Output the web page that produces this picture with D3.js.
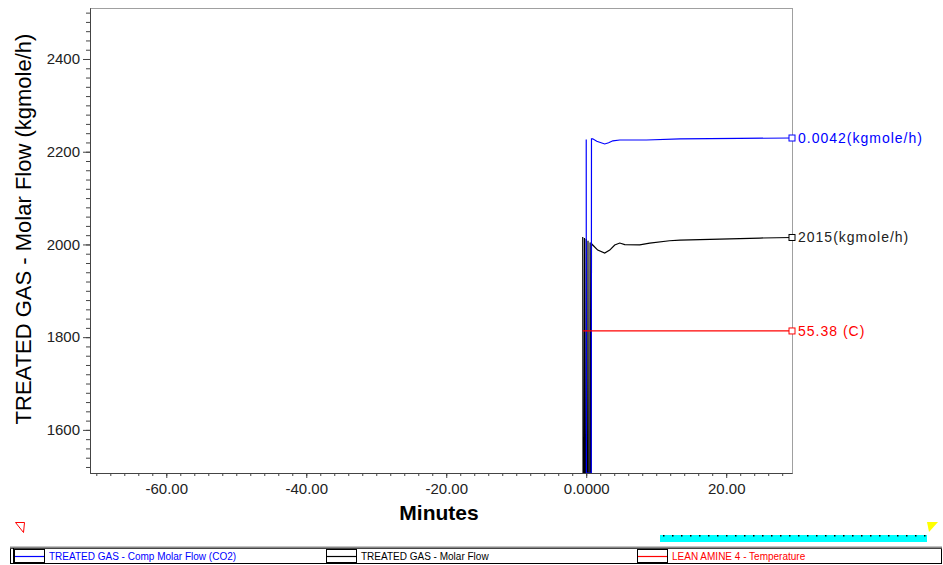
<!DOCTYPE html>
<html>
<head>
<meta charset="utf-8">
<script src="https://d3js.org/d3.v7.min.js"></script>
<style>
  body { margin: 0; background: #ffffff; font-family: "Liberation Sans", Arial, sans-serif; }
  svg text { font-family: "Liberation Sans", Arial, sans-serif; }
</style>
</head>
<body>
<svg id="chart" width="943" height="565"></svg>
<script>
// time in minutes
var co2Time  = [0.0, 0.02, 0.72, 0.75, 0.93, 1.5, 2.64, 3.2, 3.8, 4.8, 8.6, 13.4, 21.9, 29.4];
var co2Flow  = [0.00418, 0, 0, 0.00419, 0.00419, 0.00416, 0.004125, 0.00414, 0.004165, 0.004175, 0.004175, 0.004188, 0.004195, 0.0042];

var gasTime  = [-0.5, -0.45, -0.3, -0.25, -0.2, -0.05, 0.0, 0.05, 0.2, 0.25, 0.3, 0.5, 0.55, 0.6, 0.7, 0.75,
                0.93, 1.64, 2.64, 3.36, 4.07, 4.79, 5.5, 7.64, 9.07, 11.9, 13.4, 19.1, 24.8, 29.4];
var gasFlow  = [2016, 1450, 1450, 2014, 1450, 1450, 2012, 1450, 1450, 2008, 1450, 1450, 2004, 1450, 1450, 2002,
                1998.7, 1987.9, 1981.4, 1987.9, 1998.7, 2003, 1999.5, 1999, 2003, 2008, 2009.5, 2011.6, 2013.8, 2015];

var amineTime = [-0.5, 29.4];
var amineTemp = [55.38, 55.38];

var yTicks = [1600, 1800, 2000, 2200, 2400];
var xTicks = [-60, -40, -20, 0, 20];
var xTickLabels = ["-60.00", "-40.00", "-20.00", "0.0000", "20.00"];

var seriesNames = ["TREATED GAS - Comp Molar Flow (CO2)", "TREATED GAS - Molar Flow", "LEAN AMINE 4 - Temperature"];
var seriesColors = ["#0000ff", "#000000", "#ff0000"];
var endLabels = ["0.0042(kgmole/h)", "2015(kgmole/h)", "55.38 (C)"];

var svg = d3.select("#chart");
var pLeft = 90, pRight = 792, pTop = 8, pBottom = 473;

var x = d3.scaleLinear().domain([-70.9, 29.4]).range([pLeft, pRight]);
var y = d3.scaleLinear().domain([1507, 2510]).range([pBottom, pTop]);
// each trace has its own range on the strip chart
var yCo2 = d3.scaleLinear().domain([0, 0.00583]).range([pBottom, pTop]);
var yTemp = d3.scaleLinear().domain([0, 181.3]).range([pBottom, pTop]);

// frame
svg.append("line").attr("x1", pLeft).attr("x2", pRight).attr("y1", pTop + 0.5).attr("y2", pTop + 0.5)
    .attr("stroke", "#a0a0a0");
svg.append("line").attr("x1", pRight + 0.5).attr("x2", pRight + 0.5).attr("y1", pTop).attr("y2", pBottom)
    .attr("stroke", "#a0a0a0");

// y axis
svg.append("g").attr("transform", "translate(" + pLeft + ",0)")
    .call(d3.axisLeft(y).tickValues(d3.range(1520, 2510, 20)).tickSize(4).tickSizeOuter(0).tickFormat(""));
var yAxis = svg.append("g").attr("transform", "translate(" + pLeft + ",0)")
    .call(d3.axisLeft(y).tickValues(yTicks).tickSize(7).tickSizeOuter(0).tickPadding(3).tickFormat(d3.format("d")));
yAxis.selectAll("text").style("font-size", "15px").attr("fill", "#222");

// x axis
svg.append("g").attr("transform", "translate(0," + pBottom + ")")
    .call(d3.axisBottom(x).tickValues(d3.range(-70, 29.5, 2)).tickSize(3).tickSizeOuter(0).tickFormat(""));
var xAxis = svg.append("g").attr("transform", "translate(0," + pBottom + ")")
    .call(d3.axisBottom(x).tickValues(xTicks).tickSize(5).tickSizeOuter(0).tickPadding(5)
        .tickFormat(function(d, i) { return xTickLabels[i]; }));
xAxis.selectAll("text").style("font-size", "15px").attr("fill", "#222");
svg.selectAll(".domain").attr("stroke", "#444");
svg.selectAll(".tick line").attr("stroke", "#444");

// titles
svg.append("text")
    .attr("transform", "translate(31,229) rotate(-90)")
    .attr("text-anchor", "middle")
    .style("font-size", "22px")
    .text("TREATED GAS - Molar Flow (kgmole/h)");
svg.append("text")
    .attr("x", 439).attr("y", 520)
    .attr("text-anchor", "middle")
    .style("font-size", "21px").style("font-weight", "bold")
    .text("Minutes");

// traces
svg.append("clipPath").attr("id", "plotclip")
    .append("rect").attr("x", pLeft).attr("y", pTop).attr("width", pRight - pLeft).attr("height", pBottom - pTop);

var traces = [
    { t: co2Time, v: co2Flow, scale: yCo2 },
    { t: gasTime, v: gasFlow, scale: y },
    { t: amineTime, v: amineTemp, scale: yTemp }
];

var plot = svg.append("g").attr("clip-path", "url(#plotclip)");
// draw black first so the blue spikes show through it
[1, 0, 2].forEach(function(k) {
    var s = traces[k];
    var line = d3.line()
        .x(function(d) { return x(d); })
        .y(function(d, i) { return s.scale(s.v[i]); });
    plot.append("path")
        .attr("d", line(s.t))
        .attr("fill", "none")
        .attr("stroke", seriesColors[k])
        .attr("stroke-width", 1.2);
});

// end markers and current values
traces.forEach(function(s, k) {
    var last = s.v.length - 1;
    var yy = s.scale(s.v[last]);
    svg.append("rect")
        .attr("x", pRight - 3).attr("y", yy - 3)
        .attr("width", 6).attr("height", 6)
        .attr("fill", "#fff").attr("stroke", seriesColors[k]);
    svg.append("text")
        .attr("x", pRight + 6).attr("y", yy + 5)
        .attr("fill", k == 1 ? "#222" : seriesColors[k])
        .style("font-size", "14px")
        .style("letter-spacing", "1px")
        .text(endLabels[k]);
});

// scroll widgets under the chart
svg.append("path").attr("d", "M15.5,522.5 L24.5,522.5 L23.5,532.5 Z")
    .attr("fill", "none").attr("stroke", "#ff0000");
svg.append("rect").attr("x", 660).attr("y", 535).attr("width", 267).attr("height", 7).attr("fill", "#00ffff");
svg.selectAll(".dot").data(d3.range(663, 925, 9)).enter().append("rect")
    .attr("x", function(d) { return d; }).attr("y", 535).attr("width", 1.5).attr("height", 1.5).attr("fill", "#000");
svg.append("path").attr("d", "M927,522 L938,522 L929,532 Z").attr("fill", "#ffff00");

// legend strip
var leg = svg.append("g");
leg.append("rect").attr("x", 10.5).attr("y", 548.5).attr("width", 931).attr("height", 15)
    .attr("fill", "#fff").attr("stroke", "#000");
leg.append("line").attr("x1", 10).attr("x2", 942).attr("y1", 547.5).attr("y2", 547.5)
    .attr("stroke", "#888").attr("stroke-width", 2);
leg.append("line").attr("x1", 13.5).attr("x2", 13.5).attr("y1", 548).attr("y2", 564).attr("stroke", "#000");
var legX = [14, 326, 637];
seriesNames.forEach(function(n, k) {
    leg.append("rect").attr("x", legX[k] + 0.5).attr("y", 549.5).attr("width", 30).attr("height", 13)
        .attr("fill", "none").attr("stroke", "#000");
    leg.append("line").attr("x1", legX[k] + 1).attr("x2", legX[k] + 30).attr("y1", 556.5).attr("y2", 556.5)
        .attr("stroke", seriesColors[k]).attr("stroke-width", 1.2);
    leg.append("text").attr("x", legX[k] + 35).attr("y", 560)
        .attr("fill", seriesColors[k])
        .style("font-size", "10px")
        .text(n);
});
</script>
</body>
</html>
